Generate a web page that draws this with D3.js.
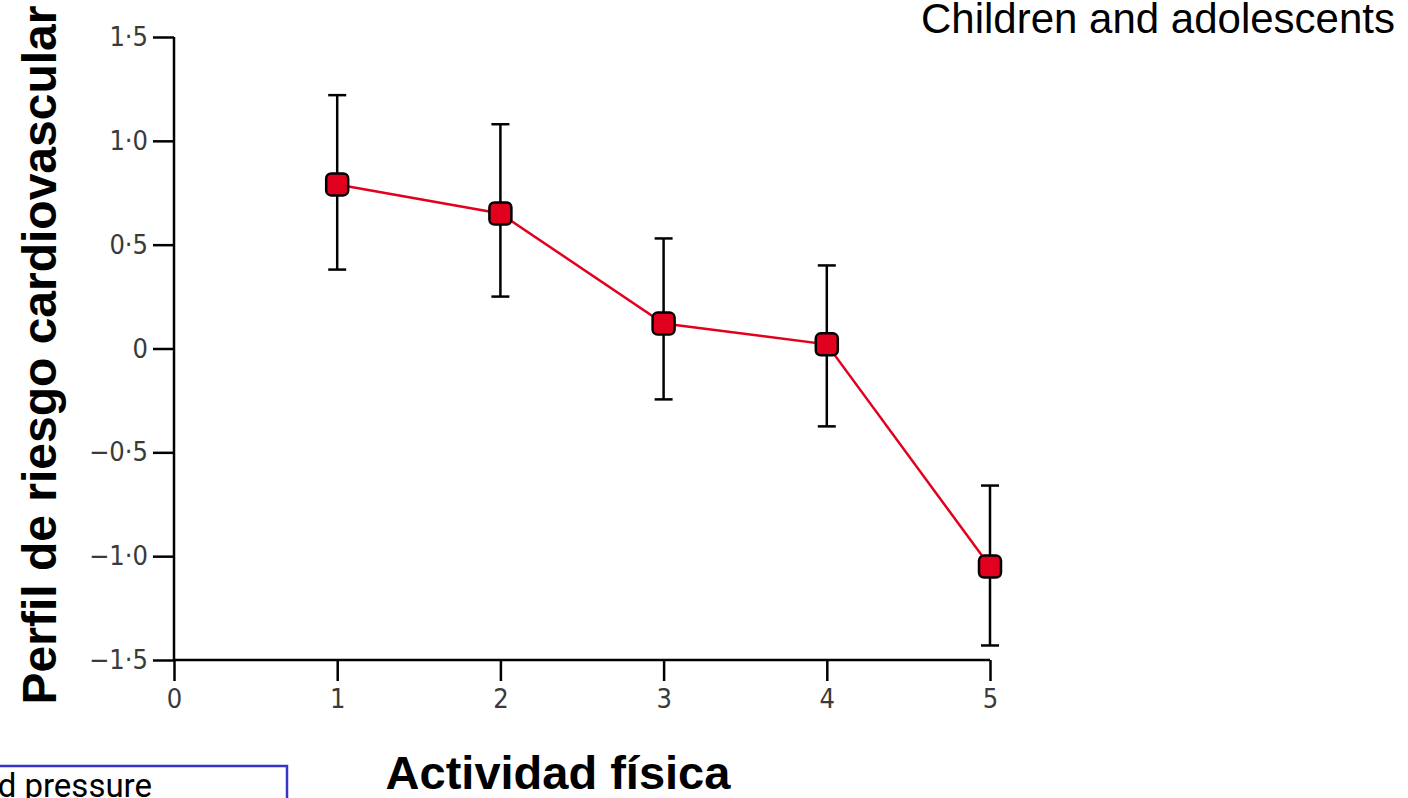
<!DOCTYPE html>
<html lang="en">
<head>
<meta charset="utf-8">
<style>
  body { margin: 0; background: white; overflow: hidden; }
  svg { display: block; }
  .axis-title { font-family: "Liberation Sans", Arial, sans-serif; font-weight: bold; fill: black; }
</style>
<script src="https://d3js.org/d3.v7.min.js"></script>
</head>
<body>
<script>
// data
var actividad = [1, 2, 3, 4, 5];
var perfil = [0.79, 0.65, 0.12, 0.02, -1.05];
var ciLow = [0.38, 0.25, -0.245, -0.375, -1.43];
var ciHigh = [1.22, 1.08, 0.53, 0.40, -0.66];
var xTicks = [0, 1, 2, 3, 4, 5];
var yTicks = [1.5, 1.0, 0.5, 0, -0.5, -1.0, -1.5];

var width = 1408, height = 798;

var svg = d3.select("body").append("svg")
  .attr("width", width)
  .attr("height", height);

var x = d3.scaleLinear().domain([0, 5]).range([174, 990]);
var y = d3.scaleLinear().domain([-1.5, 1.5]).range([660, 37]);

function fmt(v) {
  if (v === 0) return "0";
  var s = Math.abs(v).toFixed(1).replace(".", "\u00b7");
  return (v < 0 ? "\u2212" : "") + s;
}

// axes
var yAxis = d3.axisLeft(y).tickValues(yTicks).tickSize(21).tickPadding(5).tickFormat(fmt);
var xAxis = d3.axisBottom(x).tickValues(xTicks).tickSize(21).tickPadding(8).tickFormat(d3.format("d"));

var gy = svg.append("g").attr("transform", "translate(" + x(0) + ",0)").call(yAxis);
var gx = svg.append("g").attr("transform", "translate(0," + y(-1.5) + ")").call(xAxis);

[gx, gy].forEach(function(g) {
  g.attr("font-size", null).attr("font-family", null);
  g.select(".domain").attr("stroke", "black").attr("stroke-width", 2.5);
  g.selectAll(".tick line").attr("stroke", "black").attr("stroke-width", 2.5);
  g.selectAll(".tick text")
    .attr("fill", "#3a3a3a")
    .style("font-family", "'DejaVu Sans Condensed', 'DejaVu Sans', sans-serif")
    .style("font-size", "27px");
});
gy.select(".domain").attr("d", "M0," + y(1.5) + "V" + y(-1.5));
gx.select(".domain").attr("d", "M" + x(0) + ",0H" + x(5));

var pts = actividad.map(function(a, i) {
  return { a: a, v: perfil[i], lo: ciLow[i], hi: ciHigh[i] };
});

// red line
var line = d3.line().x(function(d) { return x(d.a); }).y(function(d) { return y(d.v); });
svg.append("path")
  .datum(pts)
  .attr("d", line)
  .attr("fill", "none")
  .attr("stroke", "#e2001f")
  .attr("stroke-width", 2.5);

// error bars
var eb = svg.append("g").selectAll("g").data(pts).enter().append("g");
eb.append("line")
  .attr("x1", function(d) { return x(d.a); }).attr("x2", function(d) { return x(d.a); })
  .attr("y1", function(d) { return y(d.lo); }).attr("y2", function(d) { return y(d.hi); })
  .attr("stroke", "black").attr("stroke-width", 2.5);
eb.selectAll(".cap").data(function(d) { return [[d.a, d.lo], [d.a, d.hi]]; }).enter().append("line")
  .attr("x1", function(d) { return x(d[0]) - 9; }).attr("x2", function(d) { return x(d[0]) + 9; })
  .attr("y1", function(d) { return y(d[1]); }).attr("y2", function(d) { return y(d[1]); })
  .attr("stroke", "black").attr("stroke-width", 2.5);

// markers
svg.append("g").selectAll("rect").data(pts).enter().append("rect")
  .attr("x", function(d) { return x(d.a) - 11; })
  .attr("y", function(d) { return y(d.v) - 11; })
  .attr("width", 22).attr("height", 22)
  .attr("rx", 5)
  .attr("fill", "#e2001f")
  .attr("stroke", "black")
  .attr("stroke-width", 2.5);

// titles
svg.append("text")
  .attr("class", "axis-title")
  .attr("transform", "translate(56,355) rotate(-90)")
  .attr("text-anchor", "middle")
  .style("font-size", "48px")
  .text("Perfil de riesgo cardiovascular");

svg.append("text")
  .attr("class", "axis-title")
  .attr("x", 558).attr("y", 789)
  .attr("text-anchor", "middle")
  .style("font-size", "47px")
  .text("Actividad física");

svg.append("text")
  .attr("x", 1395).attr("y", 33)
  .attr("text-anchor", "end")
  .style("font-family", "'Liberation Sans', Arial, sans-serif")
  .style("font-size", "42px")
  .text("Children and adolescents");

// legend box (partly outside the view)
svg.append("rect")
  .attr("x", -20).attr("y", 766)
  .attr("width", 307).attr("height", 60)
  .attr("fill", "white")
  .attr("stroke", "#3535c8")
  .attr("stroke-width", 2.5);
svg.append("text")
  .attr("x", 152).attr("y", 797)
  .attr("text-anchor", "end")
  .style("font-family", "Roboto, sans-serif")
  .style("font-size", "33px")
  .text("Blood pressure");
</script>
</body>
</html>
